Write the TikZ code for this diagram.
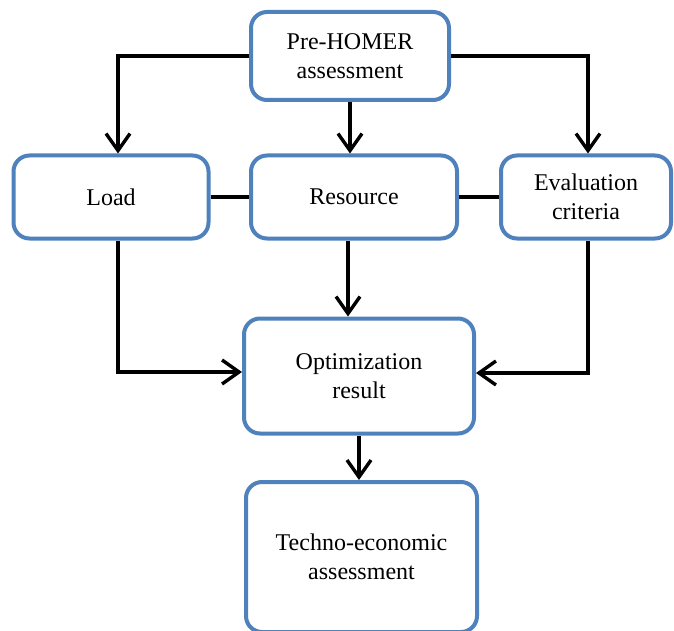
\documentclass[tikz,border=0pt]{standalone}
\usepackage{fontspec}
\setmainfont{Liberation Serif}
\usetikzlibrary{arrows.meta}
\definecolor{boxblue}{HTML}{4F81BD}

\begin{document}
\begin{tikzpicture}[x=1pt,y=-1pt,
    box/.style={draw=boxblue, line width=4pt, rounded corners=16pt,
      fill=white, align=center, inner sep=0pt,
      font=\fontsize{24}{29}\selectfont},
    link/.style={line width=3.4pt},
    flow/.style={link, -{Straight Barb[length=17pt,width=24pt,line width=3.4pt]}}]
    \useasboundingbox (0,0) rectangle (674,631);
    % Draw the boxes
    \node[box, minimum width=198pt, minimum height=88pt] (pre) at (350,56)
      {Pre-HOMER\\assessment};
    \node[box, minimum width=195pt, minimum height=83pt] (load) at (111,197) {Load};
    \node[box, minimum width=206pt, minimum height=83pt] (res) at (354,197) {Resource};
    \node[box, minimum width=170pt, minimum height=83pt] (eval) at (586,197)
      {Evaluation\\criteria};
    \node[box, minimum width=230pt, minimum height=115pt] (opt) at (359,376)
      {Optimization\\result};
    \node[box, minimum width=231pt, minimum height=150pt] (techno) at (361.5,557)
      {Techno-economic\\assessment};
    % Draw the branches from the assessment
    \draw[flow] (pre.west) -| ([xshift=7pt]load.north);
    \draw[flow] (pre.south) -- (pre.south |- res.north);
    \draw[flow] (pre.east) -| ([xshift=2pt]eval.north);
    % Join the middle row
    \draw[link] (load.east) -- (res.west);
    \draw[link] (res.east) -- (eval.west);
    % Draw the inputs of the optimization
    \draw[flow] ([xshift=7pt]load.south) |- ([yshift=4pt]opt.west);
    \draw[flow] ([xshift=-6pt]res.south) -- ([xshift=-6pt]res.south |- opt.north);
    \draw[flow] ([xshift=2pt]eval.south) |- ([yshift=3pt]opt.east);
    % Draw the final step
    \draw[flow] (opt.south) -- (opt.south |- techno.north);
\end{tikzpicture}
\end{document}
